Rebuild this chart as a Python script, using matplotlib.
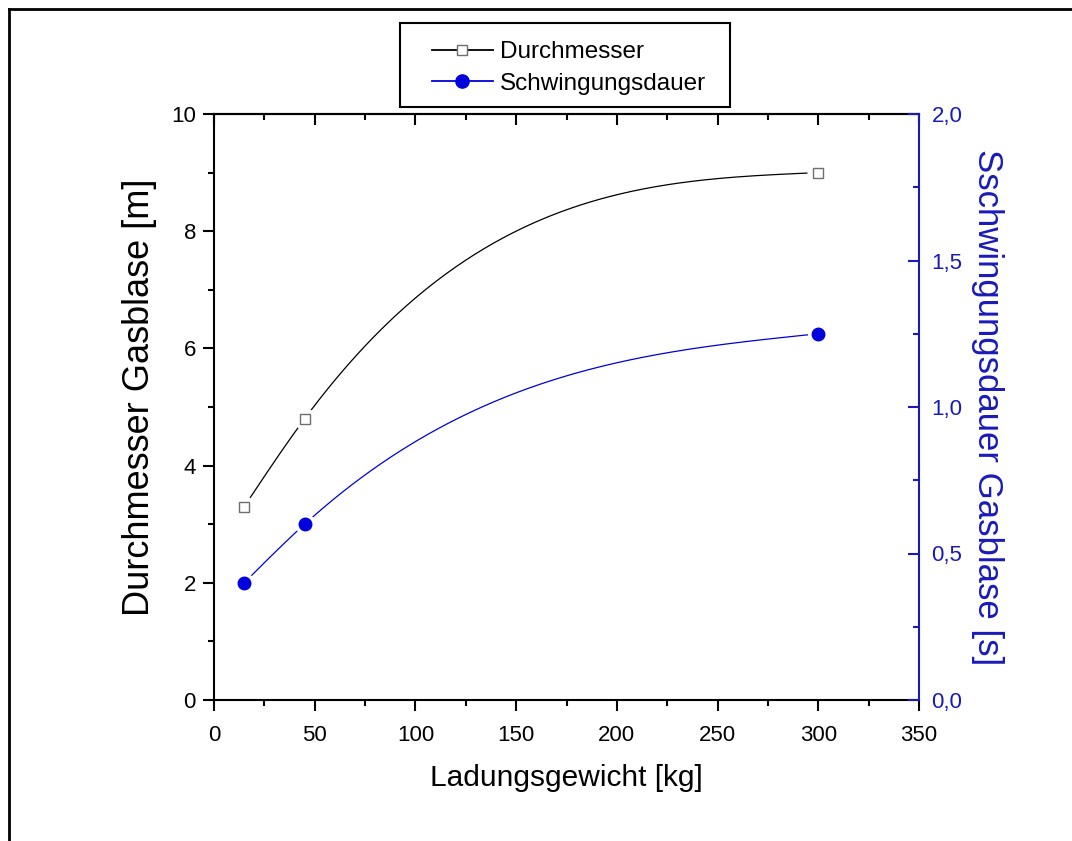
import numpy as np
import matplotlib
matplotlib.use("Agg")
import matplotlib.pyplot as plt
from matplotlib.lines import Line2D
from matplotlib.patches import Rectangle
from matplotlib.ticker import MultipleLocator, FixedLocator

plt.rcParams['font.family'] = ['Liberation Sans', 'DejaVu Sans']

# data
charge_kg = [15, 45, 300]
diameter_m = [3.3, 4.8, 9.0]
period_s = [0.4, 0.6, 1.25]

x_label = "Ladungsgewicht [kg]"
y_label_left = "Durchmesser Gasblase [m]"
y_label_right = "Sschwingungsdauer Gasblase [s]"
legend_labels = ["Durchmesser", "Schwingungsdauer"]
right_ticks = [0.0, 0.5, 1.0, 1.5, 2.0]
right_ticklabels = ["0,0", "0,5", "1,0", "1,5", "2,0"]

BLUE = "#0000dd"
AXBLUE = "#1a1ab8"


# natural cubic spline, like Origin's "spline" line connection
def spline_line(xs, ys, n=300):
    xs = np.asarray(xs, float)
    ys = np.asarray(ys, float)
    k = len(xs)
    h = np.diff(xs)
    A = np.zeros((k, k))
    r = np.zeros(k)
    A[0, 0] = A[-1, -1] = 1
    for i in range(1, k - 1):
        A[i, i - 1] = h[i - 1]
        A[i, i] = 2 * (h[i - 1] + h[i])
        A[i, i + 1] = h[i]
        r[i] = 6 * ((ys[i + 1] - ys[i]) / h[i] - (ys[i] - ys[i - 1]) / h[i - 1])
    M = np.linalg.solve(A, r)
    xx = np.linspace(xs[0], xs[-1], n)
    j = np.clip(np.searchsorted(xs, xx) - 1, 0, k - 2)
    t = (xx - xs[j]) / h[j]
    yy = ((1 - t) * ys[j] + t * ys[j + 1]
          + h[j] ** 2 / 6 * (((1 - t) ** 3 - (1 - t)) * M[j] + (t ** 3 - t) * M[j + 1]))
    return xx, yy


fig = plt.figure(figsize=(10.72, 8.41), dpi=100)
ax = fig.add_axes([214 / 1072, 1 - 700 / 841, 705 / 1072, 586 / 841])
ax2 = ax.twinx()

# black series (left axis)
sx, sy = spline_line(charge_kg, diameter_m)
ax.plot(sx, sy, color="black", lw=0.9, zorder=2)
ax.plot(charge_kg, diameter_m, ls="none", marker="o", ms=16, mfc="white",
        mec="none", zorder=3, clip_on=False)
ax.plot(charge_kg, diameter_m, ls="none", marker="s", ms=7.5, mfc="white",
        mec="#6e6e6e", mew=1.0, zorder=4, clip_on=False)

# blue series (right axis)
bx, by = spline_line(charge_kg, period_s)
ax2.plot(bx, by, color=BLUE, lw=0.9, zorder=2)
ax2.plot(charge_kg, period_s, ls="none", marker="o", ms=15, mfc="white",
         mec="none", zorder=3, clip_on=False)
ax2.plot(charge_kg, period_s, ls="none", marker="o", ms=9, mfc=BLUE,
         mec=BLUE, zorder=4, clip_on=False)

ax.set_xlim(0, 350)
ax.set_ylim(0, 10)
ax2.set_ylim(0, 2)

ax.xaxis.set_major_locator(MultipleLocator(50))
ax.xaxis.set_minor_locator(MultipleLocator(25))
ax.yaxis.set_major_locator(MultipleLocator(2))
ax.yaxis.set_minor_locator(MultipleLocator(1))
ax2.yaxis.set_major_locator(FixedLocator(right_ticks))
ax2.set_yticklabels(right_ticklabels)
ax2.yaxis.set_minor_locator(MultipleLocator(0.25))

for sp in ["left", "bottom", "top"]:
    ax.spines[sp].set_linewidth(1.5)
ax.spines["right"].set_visible(False)
for sp in ["left", "bottom", "top"]:
    ax2.spines[sp].set_visible(False)
ax2.spines["right"].set_linewidth(1.5)
ax2.spines["right"].set_color(AXBLUE)

ax.tick_params(axis="both", which="both", direction="out", width=1.5,
               labelsize=16, right=False, top=False)
ax.tick_params(axis="both", which="major", length=8)
ax.tick_params(axis="both", which="minor", length=4.5)
ax.tick_params(axis="x", pad=10)
ax.tick_params(axis="y", pad=5)

ax2.tick_params(axis="y", which="both", direction="in", width=1.5,
                colors=AXBLUE, labelsize=16, pad=9)
ax2.tick_params(axis="y", which="major", length=8)
ax2.tick_params(axis="y", which="minor", length=4.5)

top = ax.secondary_xaxis("top")
top.xaxis.set_major_locator(MultipleLocator(50))
top.xaxis.set_minor_locator(MultipleLocator(25))
top.tick_params(axis="x", which="both", direction="in", width=1.5,
                labeltop=False)
top.tick_params(axis="x", which="major", length=8)
top.tick_params(axis="x", which="minor", length=4.5)
top.spines["top"].set_linewidth(1.5)

ax.set_xlabel(x_label, fontsize=21.5, labelpad=13)
ax.set_ylabel(y_label_left, fontsize=26, labelpad=10)
ax.yaxis.label.set_y(0.517)
ax2.set_ylabel(y_label_right, fontsize=25, color=AXBLUE, rotation=-90,
               labelpad=30)

handles = [
    Line2D([], [], color="black", lw=1.3, marker="s", ms=7.5, mfc="white",
           mec="#6e6e6e"),
    Line2D([], [], color=BLUE, lw=1.3, marker="o", ms=9.5, mfc=BLUE, mec=BLUE),
]
fig.legend(handles, legend_labels, loc="upper left",
           bbox_to_anchor=(432 / 1072, 1 - 41 / 841), fontsize=17.5,
           frameon=False, handlelength=2.5, handletextpad=0.3, borderpad=0,
           labelspacing=0.4, borderaxespad=0)
fig.add_artist(Rectangle((400 / 1072, 1 - 107 / 841), 330 / 1072, 84 / 841,
                         transform=fig.transFigure, fill=False,
                         edgecolor="black", lw=1.5))

# outer frame (left and top edges only, as in the cropped original)
fig.add_artist(Line2D([9 / 1072, 1], [1 - 9 / 841, 1 - 9 / 841],
                      color="black", lw=2, transform=fig.transFigure))
fig.add_artist(Line2D([9 / 1072, 9 / 1072], [0, 1 - 9 / 841],
                      color="black", lw=2, transform=fig.transFigure))

fig.savefig("out.png", dpi=100)
